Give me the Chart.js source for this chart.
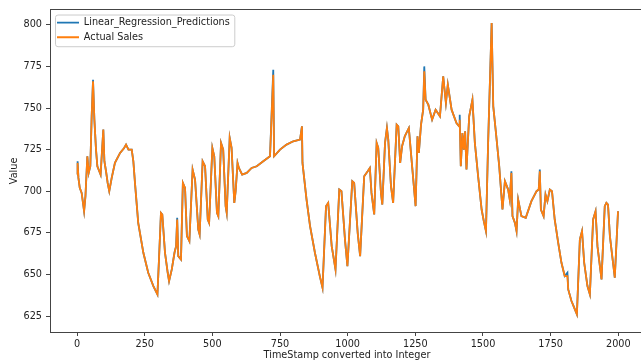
<!DOCTYPE html>
<html>
<head>
<meta charset="utf-8">
<script src="https://cdn.jsdelivr.net/npm/chart.js@4.4.0/dist/chart.umd.min.js"></script>
<style>
html, body { margin: 0; padding: 0; background: #fff; overflow: hidden; }
#wrap { width: 641px; height: 363px; overflow: hidden; }
</style>
</head>
<body>
<div id="wrap"><canvas id="ventas" width="660" height="363"></canvas></div>
<script>
// valores
const timestamps = [
    0, 2, 5, 10, 17, 26, 31, 38, 43, 49,
    54, 59, 64, 70, 75, 87, 97, 101, 107, 113,
    119, 128, 140, 159, 174, 181, 190, 202, 208, 214,
    226, 245, 263, 282, 297, 303, 310, 315, 325, 335,
    340, 350, 360, 366, 370, 374, 384, 391, 399, 406,
    415, 427, 436, 448, 453, 464, 473, 483, 488, 500,
    507, 517, 522, 532, 540, 549, 553, 564, 571, 581,
    586, 593, 598, 610, 627, 645, 664, 688, 713, 725,
    728, 750, 774, 799, 824, 831, 833, 848, 861, 879,
    897, 907, 920, 928, 941, 955, 969, 977, 990, 999,
    1017, 1024, 1037, 1046, 1061, 1074, 1082, 1088, 1098, 1107,
    1113, 1123, 1128, 1138, 1145, 1150, 1160, 1168, 1181, 1187,
    1194, 1201, 1211, 1226, 1236, 1251, 1258, 1263, 1271, 1279,
    1283, 1288, 1298, 1312, 1325, 1341, 1353, 1363, 1370, 1384,
    1402, 1412, 1414, 1418, 1424, 1429, 1434, 1439, 1449, 1461,
    1470, 1482, 1495, 1503, 1511, 1519, 1532, 1538, 1548, 1560,
    1572, 1581, 1593, 1599, 1605, 1609, 1618, 1624, 1630, 1642,
    1658, 1679, 1698, 1706, 1710, 1714, 1724, 1731, 1738, 1747,
    1755, 1765, 1778, 1790, 1802, 1812, 1815, 1827, 1837, 1847,
    1858, 1866, 1874, 1886, 1895, 1907, 1916, 1923, 1938, 1950,
    1956, 1962, 1969, 1987, 1999
];
const actualSales = [
    710, 717, 708, 702, 699, 688, 697, 721, 711, 715,
    745, 766, 743, 725, 715, 710, 737, 718, 712, 705,
    700, 708, 717, 723, 726, 728, 725, 725, 718, 705,
    681, 663, 651, 643, 638, 660, 687, 686, 663, 651,
    646, 653, 663, 667, 683, 661, 659, 705, 702, 673,
    670, 713, 707, 677, 674, 718, 715, 683, 681, 726,
    721, 687, 685, 729, 725, 691, 687, 732, 726, 693,
    700, 717, 714, 710, 711, 714, 715, 718, 721, 770,
    721, 725, 728, 730, 731, 739, 717, 695, 679, 663,
    649, 642, 691, 693, 667, 653, 701, 700, 671, 655,
    706, 705, 675, 661, 709, 712, 714, 699, 686, 729,
    726, 699, 692, 729, 738, 731, 703, 693, 740, 739,
    717, 727, 733, 738, 719, 691, 733, 723, 740, 749,
    772, 755, 752, 743, 749, 745, 769, 753, 764, 749,
    741, 739, 743, 715, 735, 725, 736, 713, 745, 755,
    729, 709, 689, 682, 676, 729, 801, 751, 735, 715,
    689, 706, 701, 695, 711, 685, 681, 676, 695, 685,
    684, 694, 700, 701, 712, 689, 685, 698, 694, 701,
    700, 683, 669, 657, 649, 649, 641, 634, 630, 626,
    671, 676, 657, 643, 638, 683, 688, 667, 647, 691,
    693, 692, 673, 648, 688
];
const predictions = [
    710, 718, 708, 702, 699, 688, 697, 721, 711, 715,
    745, 767, 743, 725, 715, 710, 737, 718, 712, 705,
    700, 708, 717, 723, 726, 728, 725, 725, 718, 705,
    681, 663, 651, 643, 638, 660, 687, 686, 663, 651,
    646, 653, 663, 667, 684, 661, 659, 705, 702, 673,
    670, 713, 707, 677, 674, 718, 715, 683, 681, 726,
    721, 687, 685, 729, 725, 691, 687, 732, 726, 693,
    700, 717, 714, 710, 711, 714, 715, 718, 721, 773,
    721, 725, 728, 730, 731, 739, 717, 695, 679, 663,
    649, 642, 691, 693, 667, 653, 701, 700, 671, 655,
    706, 705, 675, 661, 709, 712, 714, 699, 686, 729,
    726, 699, 692, 729, 738, 731, 703, 693, 740, 739,
    717, 727, 733, 738, 719, 691, 733, 723, 740, 749,
    775, 755, 752, 743, 749, 745, 769, 753, 764, 749,
    741, 739, 746, 715, 735, 725, 736, 713, 745, 755,
    729, 709, 689, 682, 676, 729, 801, 751, 735, 715,
    689, 706, 701, 695, 712, 685, 681, 676, 695, 685,
    684, 694, 700, 701, 713, 689, 685, 698, 694, 701,
    700, 683, 669, 657, 649, 651, 641, 634, 630, 626,
    671, 676, 657, 643, 638, 683, 688, 667, 647, 691,
    693, 692, 673, 648, 688
];
const ticksX = [0, 250, 500, 750, 1000, 1250, 1500, 1750, 2000];
const ticksY = [625, 650, 675, 700, 725, 750, 775, 800];

let puntosPred = [];
let puntosReal = [];
for (let i = 0; i < timestamps.length; i++) {
    puntosPred.push({ x: timestamps[i], y: predictions[i] });
    puntosReal.push({ x: timestamps[i], y: actualSales[i] });
}

Chart.defaults.font.family = '"DejaVu Sans", sans-serif';
Chart.defaults.font.size = 9.7;
Chart.defaults.color = '#222';

// marco de la leyenda y borde superior
const marco = {
    id: 'marco',
    afterLayout(chart) {
        const lg = chart.legend;
        const a = chart.chartArea;
        const h = lg.height, w = lg.width;
        lg.left = a.left + 2;
        lg.top = a.top + 2.9;
        lg.right = lg.left + w;
        lg.bottom = lg.top + h;
    },
    beforeDraw(chart) {
        const ctx = chart.ctx;
        const lg = chart.legend;
        ctx.save();
        ctx.font = '9.7px "DejaVu Sans"';
        let ancho = 0;
        chart.data.datasets.forEach(function (d) {
            ancho = Math.max(ancho, ctx.measureText(d.label).width);
        });
        const x0 = lg.left + 3.5, y0 = lg.top + 2.3;
        const x1 = lg.left + 5 + 22 + 4.85 + ancho + 5, y1 = lg.top + 34;
        ctx.beginPath();
        ctx.roundRect(x0, y0, x1 - x0, y1 - y0, 2.5);
        ctx.fillStyle = 'rgba(255,255,255,0.8)';
        ctx.fill();
        ctx.strokeStyle = '#cccccc';
        ctx.lineWidth = 1;
        ctx.stroke();
        ctx.restore();
    },
    afterDraw(chart) {
        const ctx = chart.ctx;
        const a = chart.chartArea;
        ctx.save();
        ctx.strokeStyle = '#444';
        ctx.lineWidth = 1;
        ctx.beginPath();
        ctx.moveTo(a.left, Math.round(a.top) - 0.5);
        ctx.lineTo(a.right, Math.round(a.top) - 0.5);
        ctx.stroke();
        ctx.restore();
    }
};

var ctx = document.getElementById("ventas");
var myChart = new Chart(ctx, {
    type: 'line',
    data: {
        datasets: [{
            label: 'Linear_Regression_Predictions',
            data: puntosPred,
            borderColor: '#1f77b4',
            backgroundColor: '#1f77b4',
            borderWidth: 1.8,
            pointRadius: 0,
            order: 2
        }, {
            label: 'Actual Sales',
            data: puntosReal,
            borderColor: '#ff7f0e',
            backgroundColor: '#ff7f0e',
            borderWidth: 1.8,
            pointRadius: 0,
            order: 1
        }],
    },
    options: {
        responsive: false,
        animation: false,
        devicePixelRatio: 1,
        layout: { padding: { top: 9.3, right: 16, left: 0, bottom: 0 } },
        plugins: {
            tooltip: { enabled: false },
            legend: {
                position: 'chartArea',
                align: 'start',
                labels: {
                    usePointStyle: true,
                    pointStyle: 'line',
                    pointStyleWidth: 22,
                    padding: 5,
                    color: '#222',
                    sort: function (a, b) { return a.datasetIndex - b.datasetIndex; }
                }
            }
        },
        scales: {
            x: {
                type: 'linear',
                min: -100,
                max: 2095,
                afterBuildTicks: function (s) { s.ticks = ticksX.map(function (v) { return { value: v }; }); },
                afterFit: function (s) { s.height = 31; },
                ticks: { autoSkip: false, maxRotation: 0, padding: 3, color: '#222', callback: function (v) { return String(v); } },
                grid: { drawOnChartArea: false, tickLength: 4, color: '#444' },
                border: { color: '#444' },
                title: { display: true, text: 'TimeStamp converted into Integer', color: '#222', padding: { top: 0, bottom: 1.5 } }
            },
            y: {
                min: 615.4,
                max: 809,
                afterBuildTicks: function (s) { s.ticks = ticksY.map(function (v) { return { value: v }; }); },
                afterFit: function (s) { s.width = 50; },
                ticks: { autoSkip: false, padding: 4, color: '#222', callback: function (v) { return String(v); } },
                grid: { drawOnChartArea: false, tickLength: 4, color: '#444' },
                border: { color: '#444' },
                title: { display: true, text: 'Value', color: '#222', padding: { top: 9, bottom: 0 } }
            }
        }
    },
    plugins: [marco]
});
</script>
</body>
</html>
